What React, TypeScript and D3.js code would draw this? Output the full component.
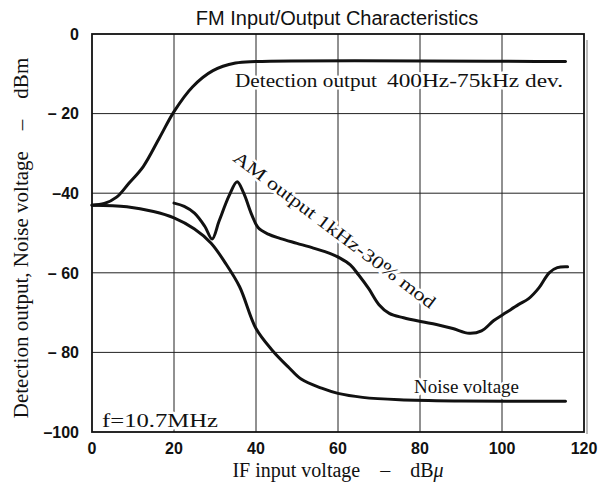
import React from "react";
import * as d3 from "d3";

const W = 602;
const H = 489;

const xTicks = [0, 20, 40, 60, 80, 100, 120];
const yTicks = [0, -20, -40, -60, -80, -100];
const yTickLabels = ["0", "– 20", "–40", "– 60", "– 80", "–100"];

const detX = [0, 3, 6, 9, 12.5, 16.5, 20, 24.5, 29.5, 35, 40, 115.5];
const detY = [-43, -42.6, -41, -37.5, -33.3, -26, -19.5, -13.3, -9.2, -7.3, -6.9, -6.9];

const noiseX = [0, 8.5, 15, 20, 25, 29, 32.5, 36, 40, 44, 48, 51, 56, 60, 66, 75, 90, 115.5];
const noiseY = [-43, -43.4, -44.6, -46.2, -49, -52.5, -57.5, -63.5, -74, -79.5, -83.8, -86.7, -89, -90.3, -91.3, -91.9, -92.2, -92.3];

const amX = [20, 22.5, 25, 27.5, 29.3, 31, 33.5, 35.4, 37, 39, 40.5, 43, 46, 50, 54, 58, 60.5, 63, 65, 67.5, 70, 72.5, 76, 80.5, 84, 88, 92, 95, 98, 101, 104, 106.5, 109, 111.5, 113.5, 116];
const amY = [-42.5, -43.3, -45, -48.3, -51.5, -47, -40.5, -37.1, -40, -45.5, -48.6, -50.3, -51.4, -52.6, -53.8, -55.1, -56.3, -58, -60.5, -64, -68, -70.2, -71.3, -72.3, -73, -74, -75.2, -74.6, -72, -70, -68, -66.5, -63.8, -60, -58.7, -58.5];

const L = 92, R = 584, T = 34, B = 432;

export default function App() {
  const x = d3.scaleLinear().domain([0, 120]).range([L, R]);
  const y = d3.scaleLinear().domain([-100, 0]).range([B, T]);
  const line = d3
    .line<[number, number]>()
    .x((d) => x(d[0]))
    .y((d) => y(d[1]))
    .curve(d3.curveCatmullRom.alpha(0.5));
  const zip = (a: number[], b: number[]) => a.map((v, i) => [v, b[i]] as [number, number]);

  const serif = "'Liberation Serif', 'DejaVu Serif', serif";
  const halo = { stroke: "#fff", strokeWidth: 5, paintOrder: "stroke" as const, strokeLinejoin: "round" as const };

  return (
    <svg width={W} height={H} style={{ position: "absolute", left: 0, top: 0, background: "#fff" }}>
      <rect x={0} y={0} width={W} height={H} fill="#fff" />
      {/* grid */}
      {xTicks.slice(1, -1).map((t) => (
        <line key={"gx" + t} x1={x(t)} x2={x(t)} y1={T} y2={B} stroke="#222" strokeWidth={1} />
      ))}
      {yTicks.slice(1, -1).map((t) => (
        <line key={"gy" + t} x1={L} x2={R} y1={y(t)} y2={y(t)} stroke="#222" strokeWidth={1} />
      ))}
      {/* shadow on right */}
      <line x1={R + 3} x2={R + 3} y1={T + 6} y2={B + 2} stroke="#bbb" strokeWidth={2} />
      {/* frame */}
      <rect x={L} y={T} width={R - L} height={B - T} fill="none" stroke="#111" strokeWidth={1.8} />

      {/* annotations (with halos to break gridlines) */}
      <g fontFamily={serif} fill="#111">
        <text x={235} y={87} fontSize={18} textLength={142} lengthAdjust="spacingAndGlyphs" style={halo}>
          Detection output
        </text>
        <text x={387} y={87} fontSize={19} textLength={176} lengthAdjust="spacingAndGlyphs" style={halo}>
          400Hz-75kHz dev.
        </text>
        <text
          x={0}
          y={0}
          fontSize={18}
          textLength={248}
          lengthAdjust="spacingAndGlyphs"
          transform="translate(232,160) rotate(37)"
          style={halo}
        >
          AM output  1kHz-30% mod
        </text>
        <text x={414} y={393} fontSize={19} style={halo}>
          Noise voltage
        </text>
        <text x={102} y={427} fontSize={19} textLength={116} lengthAdjust="spacingAndGlyphs" style={halo}>
          f=10.7MHz
        </text>
      </g>

      {/* curves */}
      <g fill="none" stroke="#111" strokeWidth={3} strokeLinecap="round" strokeLinejoin="round">
        <path d={line(zip(detX, detY)) || ""} />
        <path d={line(zip(noiseX, noiseY)) || ""} />
        <path d={line(zip(amX, amY)) || ""} />
      </g>

      {/* tick labels */}
      <g fontFamily="'Liberation Sans', Arial, sans-serif" fontWeight="bold" fontSize={16} fill="#111">
        {yTicks.map((t, i) => (
          <text key={"yl" + t} x={79} y={y(t)} dy="0.36em" textAnchor="end">
            {yTickLabels[i]}
          </text>
        ))}
        {xTicks.map((t) => (
          <text key={"xl" + t} x={x(t)} y={454} textAnchor="middle">
            {t}
          </text>
        ))}
      </g>

      {/* title */}
      <text x={337} y={25} textAnchor="middle" fontFamily="'Liberation Sans', Arial, sans-serif" fontSize={20} fill="#111">
        FM Input/Output Characteristics
      </text>

      {/* axis titles */}
      <text x={338} y={477} textAnchor="middle" fontFamily={serif} fontSize={20} fill="#111">
        IF input voltage{"\u2003–\u2003"}dB<tspan fontStyle="italic">μ</tspan>
      </text>
      <text
        transform="translate(28,238) rotate(-90)"
        textAnchor="middle"
        fontFamily={serif}
        fontSize={21}
        fill="#111"
      >
        Detection output, Noise voltage{"\u2003–\u2003"}dBm
      </text>
    </svg>
  );
}
